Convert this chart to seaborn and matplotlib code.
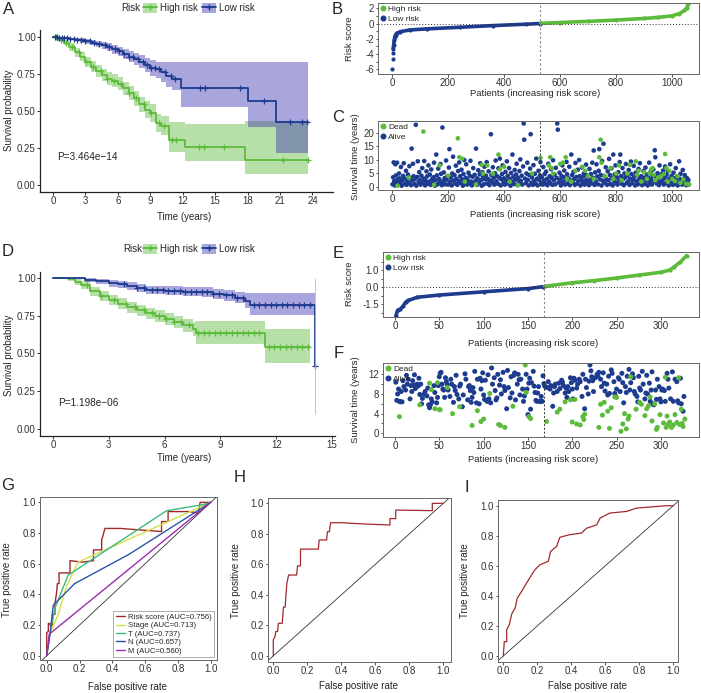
import numpy as np
import pandas as pd
import matplotlib.pyplot as plt
import seaborn as sns
from matplotlib.lines import Line2D
from matplotlib.patches import Patch
from matplotlib.ticker import FormatStrFormatter

sns.set_style("ticks")
plt.rcParams['font.family'] = ['Liberation Sans', 'DejaVu Sans']
plt.rcParams['font.size'] = 7
plt.rcParams['axes.unicode_minus'] = False

GREEN = "#5dbb3c"
BLUE = "#1d3b8f"
BLUE_FILL = "#4238b4"

# ---- Kaplan-Meier, training cohort (A) ----
a_low_t = [0, 0.5, 1.0, 1.5, 2.0, 2.5, 3.0, 3.5, 4.0, 4.5, 5.0, 5.5, 6.0, 6.5, 7.0, 7.5, 8.0, 8.5, 9.0, 9.5,
           10.0, 10.5, 11.0, 11.8, 18.0, 20.6, 23.6]
a_low_s = [1.0, 0.997, 0.993, 0.99, 0.985, 0.98, 0.975, 0.965, 0.955, 0.945, 0.935, 0.92, 0.905, 0.89, 0.87,
           0.855, 0.835, 0.815, 0.795, 0.785, 0.765, 0.74, 0.715, 0.658, 0.567, 0.424, 0.424]
a_low_up = [1.0, 1.0, 1.0, 0.999, 0.997, 0.994, 0.99, 0.982, 0.975, 0.967, 0.96, 0.948, 0.935, 0.924, 0.908,
            0.895, 0.878, 0.862, 0.845, 0.835, 0.834, 0.834, 0.834, 0.834, 0.834, 0.834, 0.834]
a_low_lo = [1.0, 0.993, 0.986, 0.98, 0.972, 0.965, 0.958, 0.945, 0.932, 0.92, 0.905, 0.888, 0.872, 0.852, 0.83,
            0.812, 0.79, 0.765, 0.74, 0.725, 0.695, 0.665, 0.64, 0.528, 0.39, 0.215, 0.215]
a_low_cens = [0.2, 0.4, 0.6, 0.8, 1.0, 1.3, 1.6, 1.9, 2.2, 2.6, 3.0, 3.4, 3.8, 4.3, 4.8, 5.2, 5.7, 6.1, 6.6, 7.0,
              7.4, 7.9, 8.3, 8.7, 9.1, 9.4, 9.8, 10.4, 10.9, 11.3, 13.6, 14.1, 17.3, 19.5, 21.9, 23.0, 23.5]

a_high_t = [0, 0.5, 1.0, 1.5, 2.0, 2.5, 3.0, 3.5, 4.0, 4.5, 5.0, 5.5, 6.0, 6.5, 7.0, 7.5, 8.0, 8.5, 9.0, 9.5,
            10.0, 10.7, 12.2, 17.8, 23.6]
a_high_s = [1.0, 0.985, 0.965, 0.935, 0.9, 0.87, 0.835, 0.8, 0.77, 0.745, 0.72, 0.705, 0.685, 0.655, 0.62,
            0.585, 0.545, 0.51, 0.485, 0.42, 0.40, 0.30, 0.256, 0.17, 0.17]
a_high_up = [1.0, 0.995, 0.985, 0.96, 0.93, 0.9, 0.87, 0.838, 0.81, 0.785, 0.762, 0.748, 0.728, 0.7, 0.668,
             0.635, 0.598, 0.565, 0.545, 0.48, 0.465, 0.426, 0.415, 0.433, 0.433]
a_high_lo = [1.0, 0.975, 0.945, 0.91, 0.87, 0.84, 0.8, 0.762, 0.73, 0.705, 0.678, 0.662, 0.64, 0.61, 0.572,
             0.535, 0.492, 0.455, 0.425, 0.36, 0.34, 0.22, 0.16, 0.075, 0.075]
a_high_cens = [0.3, 0.7, 1.2, 1.8, 2.4, 3.1, 3.7, 4.4, 5.0, 5.6, 6.3, 7.0, 7.7, 8.4, 9.1, 9.8, 10.3, 11.0, 11.4,
               13.5, 14.0, 15.8, 21.3, 23.6]

# ---- Kaplan-Meier, validation cohort (D) ----
d_low_t = [0, 1.0, 1.7, 2.3, 3.0, 3.5, 4.0, 4.5, 5.0, 6.0, 7.0, 8.0, 8.6, 9.2, 9.8, 10.3, 10.6, 14.1]
d_low_s = [1.0, 0.997, 0.985, 0.975, 0.963, 0.955, 0.942, 0.93, 0.918, 0.912, 0.907, 0.903, 0.893, 0.882,
           0.868, 0.845, 0.818, 0.42]
d_low_up = [1.0, 1.0, 0.997, 0.992, 0.985, 0.979, 0.968, 0.958, 0.947, 0.942, 0.938, 0.935, 0.928, 0.918,
            0.906, 0.9, 0.9, 1.0]
d_low_lo = [1.0, 0.99, 0.973, 0.958, 0.941, 0.931, 0.916, 0.902, 0.889, 0.882, 0.876, 0.871, 0.858, 0.846,
            0.83, 0.8, 0.753, 0.10]
d_low_cens = [3.8, 4.5, 4.9, 5.3, 5.6, 5.9, 6.2, 6.5, 6.8, 7.1, 7.4, 7.7, 8.0, 8.3, 8.6, 8.9, 9.3, 9.6, 9.9,
              10.2, 10.8, 11.1, 11.4, 11.7, 12.0, 12.3, 12.6, 12.9, 13.2, 13.5, 13.8, 14.1]

d_high_t = [0, 0.8, 1.2, 1.5, 2.0, 2.5, 3.0, 3.5, 4.0, 4.5, 5.0, 5.5, 6.0, 6.5, 7.0, 7.5, 7.7, 11.4, 13.8]
d_high_s = [1.0, 0.99, 0.97, 0.951, 0.91, 0.88, 0.852, 0.828, 0.804, 0.784, 0.764, 0.745, 0.725, 0.706,
            0.687, 0.659, 0.636, 0.544, 0.544]
d_high_up = [1.0, 1.0, 0.99, 0.975, 0.94, 0.912, 0.886, 0.863, 0.84, 0.821, 0.802, 0.784, 0.765, 0.747,
             0.73, 0.705, 0.716, 0.66, 0.66]
d_high_lo = [1.0, 0.98, 0.95, 0.927, 0.88, 0.848, 0.818, 0.793, 0.768, 0.747, 0.726, 0.706, 0.685, 0.665,
             0.644, 0.613, 0.562, 0.434, 0.434]
d_high_cens = [1.8, 2.6, 3.3, 3.9, 4.4, 4.9, 5.3, 5.7, 6.1, 6.5, 6.9, 7.3, 7.8, 8.1, 8.4, 8.7, 9.0, 9.3, 9.6,
               9.9, 10.2, 10.5, 10.8, 11.1, 11.6, 11.9, 12.2, 12.5, 12.8, 13.1, 13.4, 13.7]

# ---- risk score curves (B, E) ----
b_low_idx = [1, 2, 3, 4, 6, 8, 10, 13, 18, 30, 65, 125, 243, 362, 480, 528]
b_low_score = [-5.9, -4.6, -3.9, -3.3, -2.8, -2.2, -1.7, -1.45, -1.25, -1.06, -0.84, -0.7, -0.49, -0.27,
               -0.09, 0.0]
b_high_idx = [531, 600, 700, 800, 900, 950, 1000, 1026, 1044, 1052, 1056]
b_high_score = [0.02, 0.13, 0.28, 0.45, 0.66, 0.8, 1.0, 1.3, 1.7, 2.0, 2.5]
b_cutoff = 530

e_low_idx = [1, 3, 6, 9, 12, 15, 25, 50, 100, 150, 167]
e_low_score = [-1.7, -1.36, -1.3, -1.13, -0.89, -0.79, -0.6, -0.47, -0.28, -0.09, 0.02]
e_high_idx = [169, 200, 225, 250, 275, 300, 310, 315, 322, 329]
e_high_score = [0.04, 0.25, 0.38, 0.53, 0.7, 0.87, 1.0, 1.19, 1.47, 1.85]
e_cutoff = 168

# ---- survival status scatter (C, F): (patient, years) ----
c_alive = [(2, 1.0), (4, 3.6), (6, 9.1), (8, 2.2), (10, 0.6), (12, 8.4), (14, 4.3), (16, 1.5), (18, 9.0),
           (20, 2.8), (23, 0.9), (25, 5.0), (27, 3.2), (30, 1.8), (32, 7.4), (35, 0.5), (37, 2.6), (40, 4.1),
           (42, 8.8), (45, 1.2), (47, 3.0), (50, 6.0), (52, 0.8), (55, 2.0), (57, 4.6), (60, 1.5), (62, 7.7),
           (65, 3.4), (68, 0.7), (70, 14.2), (72, 2.4), (75, 8.6), (77, 4.0), (80, 1.1), (82, 2.9), (85, 23.0),
           (87, 0.5), (90, 3.7), (92, 9.5), (95, 1.8), (97, 5.5), (100, 2.5),
           (102, 0.9), (105, 4.2), (108, 7.0), (110, 1.6), (113, 3.1), (115, 9.6), (118, 0.6), (120, 2.3),
           (123, 5.8), (125, 3.9), (128, 1.2), (130, 8.0), (133, 2.0), (135, 4.6), (138, 0.8), (140, 6.5),
           (143, 2.9), (145, 1.4), (148, 3.6), (150, 9.0), (153, 0.5), (155, 2.5), (158, 12.0), (160, 4.3),
           (163, 1.0), (165, 6.8), (168, 3.0), (170, 1.7), (173, 8.5), (175, 4.9), (178, 0.7), (180, 22.0),
           (182, 2.2), (185, 5.4), (188, 3.3), (190, 1.0), (193, 9.8), (195, 2.7), (198, 4.0), (200, 0.9),
           (203, 7.2), (205, 14.0), (208, 1.9), (210, 3.5), (213, 0.6), (215, 5.0), (218, 11.2), (220, 2.4),
           (223, 4.4), (225, 1.3), (228, 7.9), (230, 3.0), (233, 0.8), (236, 5.9), (238, 2.1), (240, 9.1),
           (243, 4.0), (245, 1.5), (248, 6.4), (250, 2.8), (253, 0.5), (255, 4.8), (258, 10.0), (260, 1.7),
           (263, 3.4), (265, 8.4), (268, 0.9), (270, 2.6), (273, 5.3), (275, 1.2), (278, 4.1), (280, 9.7),
           (283, 2.0), (285, 0.6), (288, 3.8), (290, 7.0), (293, 1.4), (295, 4.5), (298, 2.3), (300, 14.2),
           (303, 0.8), (305, 3.2), (308, 6.2), (310, 1.6), (313, 4.7), (315, 8.8), (318, 2.5), (320, 0.5),
           (323, 5.5), (325, 3.6), (328, 1.0), (330, 7.5), (333, 2.8), (335, 4.2), (338, 9.2), (340, 1.3),
           (343, 3.0), (345, 5.8), (348, 0.7), (350, 2.4), (353, 19.5), (355, 4.4), (358, 1.9), (360, 7.3),
           (363, 3.3), (365, 0.9), (368, 5.1), (370, 9.8), (373, 2.1), (375, 4.0), (378, 1.2), (380, 6.9),
           (383, 3.5), (385, 10.5), (388, 0.6), (390, 2.9), (393, 4.8), (395, 8.0), (398, 1.7), (400, 3.2),
           (403, 0.9), (405, 5.6), (408, 2.4), (410, 9.5), (413, 4.1), (415, 1.3), (418, 7.0), (420, 3.0),
           (423, 0.5), (425, 5.2), (428, 2.0), (430, 12.0), (433, 3.8), (435, 1.1), (438, 6.3), (440, 2.7),
           (443, 4.6), (445, 8.6), (448, 0.7), (450, 3.4), (453, 1.8), (455, 5.9), (458, 10.2), (460, 2.3),
           (463, 4.2), (465, 0.9), (468, 7.6), (470, 23.5), (472, 17.5), (475, 3.1), (478, 1.4), (480, 5.0),
           (483, 9.0), (485, 2.6), (488, 0.6), (490, 4.4), (493, 6.8), (495, 19.5), (498, 1.6), (500, 3.5),
           (503, 0.8), (505, 8.1), (508, 2.2), (510, 4.9), (513, 1.2), (515, 10.5), (518, 3.1), (520, 0.6),
           (523, 6.0), (525, 2.6), (528, 4.3), (530, 9.2), (533, 1.5), (535, 3.6), (538, 0.9), (540, 7.4),
           (543, 2.4), (545, 4.8), (548, 1.1), (550, 5.7), (553, 3.0), (555, 0.7), (558, 8.6), (560, 2.0),
           (563, 4.0), (565, 1.4), (568, 6.6), (570, 3.3), (573, 0.8), (575, 9.9), (578, 2.5), (580, 4.6),
           (583, 1.0), (585, 7.1), (588, 3.4), (590, 23.5), (592, 21.2), (595, 1.7), (598, 5.3), (600, 2.7),
           (603, 0.6), (605, 4.1), (608, 8.0), (610, 1.9), (613, 3.6), (615, 6.1), (618, 0.9), (620, 2.8),
           (623, 9.3), (625, 4.7), (628, 1.3), (630, 3.2), (633, 7.5), (635, 0.7), (638, 2.4), (640, 12.0),
           (643, 4.4), (645, 1.6), (648, 5.6), (650, 2.9), (653, 0.8), (655, 8.9), (658, 3.7), (660, 1.2),
           (663, 6.4), (665, 2.2), (668, 10.0), (670, 4.0), (673, 0.6), (675, 2.7), (678, 7.2), (680, 1.5),
           (683, 3.9), (685, 5.0), (688, 0.9), (690, 2.4), (693, 8.3), (695, 4.3), (698, 1.8), (700, 3.1),
           (703, 0.7), (705, 6.7), (708, 2.6), (710, 4.8), (713, 1.3), (715, 9.0), (718, 3.4), (720, 13.5),
           (723, 0.8), (725, 5.4), (728, 2.1), (730, 8.4), (733, 3.9), (735, 1.0), (738, 6.0), (740, 14.0),
           (743, 2.8), (745, 4.5), (748, 0.6), (750, 9.6), (753, 2.3), (755, 16.0), (758, 4.1), (760, 1.5),
           (763, 7.3), (765, 3.0), (768, 0.8), (770, 5.8), (773, 2.5), (775, 10.4), (778, 4.4), (780, 1.1),
           (783, 6.9), (785, 3.3), (788, 0.6), (790, 12.0), (793, 2.2), (795, 4.7), (798, 8.0), (800, 1.6),
           (803, 3.6), (805, 0.9), (808, 5.5), (810, 2.4), (813, 9.2), (815, 12.0), (818, 4.0), (820, 1.2),
           (823, 7.0), (825, 2.9), (828, 0.7), (830, 5.0), (833, 3.5), (835, 8.5), (838, 1.5), (840, 4.3),
           (843, 2.0), (845, 6.3), (848, 0.8), (850, 3.1), (853, 9.4), (855, 4.8), (858, 1.4), (860, 2.6),
           (863, 7.8), (865, 3.8), (868, 0.6), (870, 5.3), (873, 2.2), (875, 4.4), (878, 1.0), (880, 6.7),
           (883, 3.0), (885, 8.8), (888, 1.7), (890, 4.0), (893, 0.7), (895, 2.8), (898, 5.9), (900, 3.4),
           (903, 1.2), (905, 7.2), (908, 2.4), (910, 4.6), (913, 0.6), (915, 3.3), (918, 9.0), (920, 1.8),
           (923, 5.6), (925, 2.9), (928, 0.9), (930, 4.2), (933, 6.5), (935, 2.1), (938, 13.6), (940, 11.0),
           (943, 3.7), (945, 1.3), (948, 5.1), (950, 2.6), (953, 0.7), (955, 8.0), (958, 3.9), (960, 1.6),
           (963, 4.8), (965, 2.3), (968, 6.1), (970, 0.9), (973, 3.4), (975, 7.6), (978, 1.4), (980, 4.4),
           (983, 2.0), (985, 5.7), (988, 0.6), (990, 3.0), (993, 8.4), (995, 1.9), (998, 4.1), (1000, 2.5),
           (1003, 0.8), (1005, 5.3), (1008, 3.2), (1010, 1.2), (1013, 7.0), (1015, 2.4), (1018, 4.0),
           (1020, 0.6), (1023, 3.5), (1025, 9.5), (1028, 1.7), (1030, 4.9), (1033, 2.6), (1035, 0.9),
           (1038, 6.3), (1040, 3.0), (1043, 1.4), (1045, 4.4), (1048, 2.1), (1050, 0.7), (1053, 3.3),
           (1055, 1.5), (1058, 2.6), (1060, 0.9)]
c_dead = [(20, 0.5), (60, 3.5), (112, 20.5), (150, 0.8), (170, 8.0), (200, 4.2), (235, 18.0), (240, 11.0),
          (250, 10.5), (260, 2.0), (300, 1.0), (320, 8.2), (325, 5.0), (340, 8.0), (360, 5.0), (380, 12.0),
          (385, 6.5), (400, 7.5), (420, 2.0), (450, 0.7), (500, 5.0), (530, 10.8), (560, 8.0), (565, 11.0),
          (570, 7.0), (575, 5.0), (600, 8.5), (610, 9.0), (620, 11.0), (625, 3.0), (640, 2.0), (655, 6.0),
          (680, 7.5), (690, 6.0), (700, 4.0), (720, 3.0), (740, 11.0), (745, 17.5), (748, 9.0), (760, 4.0),
          (780, 7.0), (790, 3.0), (800, 5.0), (810, 8.0), (820, 2.5), (840, 5.0), (850, 8.2), (870, 9.5),
          (875, 4.5), (880, 6.0), (890, 2.0), (900, 5.5), (910, 3.0), (920, 5.0), (925, 6.5), (930, 7.0),
          (935, 4.5), (940, 2.5), (950, 3.5), (960, 4.0), (970, 4.8), (975, 12.2), (980, 7.0), (985, 2.0),
          (990, 6.0), (1000, 3.0), (1010, 2.2), (1020, 4.0), (1030, 1.5), (1040, 2.8), (1050, 1.2),
          (1060, 1.0)]

f_alive = [(1, 10.4), (2, 6.7), (3, 8.0), (4, 9.0), (5, 6.5), (6, 6.4), (7, 8.5), (8, 6.4), (9, 10.7),
           (10, 9.5), (12, 8.8), (13, 11.8), (14, 10.0), (15, 11.0), (17, 7.0), (18, 9.7), (19, 8.5),
           (20, 10.7), (21, 9.8), (22, 11.9), (23, 9.1), (25, 10.0), (26, 9.6), (27, 11.2), (28, 7.9),
           (29, 10.0), (30, 6.0), (31, 7.1), (33, 8.0), (34, 8.5), (36, 7.6), (37, 9.2), (38, 5.8), (39, 5.2),
           (40, 5.8), (41, 7.0), (42, 6.4), (44, 9.7), (45, 8.3), (47, 6.2), (48, 7.3), (49, 9.7), (50, 11.5),
           (51, 12.2), (52, 12.4), (53, 10.0), (54, 9.0), (55, 8.8), (56, 7.3), (57, 11.3), (58, 10.5),
           (59, 9.9), (60, 8.8), (62, 7.5), (63, 11.0), (64, 10.0), (66, 6.3), (67, 9.5), (68, 8.7),
           (69, 11.8), (70, 7.9), (72, 7.0), (73, 9.6), (74, 10.0), (76, 5.4), (77, 7.8), (79, 12.1),
           (80, 11.0), (82, 6.8), (83, 9.5), (84, 9.7), (85, 8.7), (86, 6.3), (87, 7.3), (88, 9.3), (89, 8.3),
           (90, 12.6), (92, 6.2), (93, 11.0), (95, 6.0), (96, 11.2), (97, 9.0), (98, 10.7), (99, 12.3),
           (100, 7.8), (101, 6.9), (102, 10.8), (104, 6.5), (105, 11.9), (106, 7.0), (108, 6.2), (109, 13.3),
           (110, 10.0), (112, 11.3), (113, 8.7), (114, 6.8), (115, 7.2), (116, 12.0), (118, 9.8), (119, 10.9),
           (120, 8.0), (122, 12.4), (123, 9.5), (124, 8.7), (126, 5.0), (127, 12.8), (128, 9.3), (130, 7.2),
           (131, 11.5), (132, 8.2), (134, 11.8), (135, 12.3), (136, 6.8), (138, 10.0), (139, 12.0),
           (140, 10.9), (141, 7.8), (142, 11.0), (144, 9.0), (145, 6.5), (146, 7.6), (148, 12.0), (149, 9.0),
           (150, 3.8), (151, 10.2), (152, 11.2), (153, 4.9), (154, 10.3), (156, 12.6), (157, 9.6), (158, 8.3),
           (159, 6.7), (160, 6.5), (161, 8.2), (162, 9.5), (163, 6.5), (164, 6.5), (165, 7.5), (166, 6.5),
           (167, 11.7), (168, 10.1), (169, 9.6), (170, 9.4), (172, 9.3), (173, 10.5), (175, 9.0), (176, 9.7),
           (178, 5.5), (179, 8.2), (180, 9.5), (181, 10.0), (183, 8.5), (185, 10.2), (186, 9.1), (188, 10.8),
           (189, 10.4), (190, 9.7), (192, 8.2), (193, 9.2), (194, 7.3), (195, 9.5), (196, 8.5), (198, 11.3),
           (199, 10.3), (200, 9.0), (201, 7.0), (202, 11.2), (203, 10.8), (205, 9.2), (206, 10.0),
           (208, 11.0), (209, 10.5), (211, 7.5), (212, 12.0), (214, 5.0), (215, 11.0), (216, 9.3), (218, 8.0),
           (219, 10.6), (220, 13.9), (221, 12.7), (222, 11.5), (223, 10.7), (224, 8.5), (226, 11.3),
           (228, 12.0), (229, 11.6), (230, 12.4), (232, 11.0), (233, 9.5), (235, 12.3), (236, 10.2),
           (237, 8.6), (239, 10.0), (240, 7.8), (241, 11.6), (242, 8.1), (244, 12.9), (245, 12.2), (247, 10.5),
           (248, 8.1), (249, 7.5), (250, 9.0), (252, 11.3), (253, 11.0), (254, 8.5), (256, 12.2), (257, 10.3),
           (258, 6.2), (260, 9.5), (261, 8.3), (262, 11.6), (264, 13.0), (265, 8.8), (266, 10.3), (268, 12.1),
           (269, 11.3), (270, 8.5), (271, 8.0), (273, 7.5), (274, 6.4), (275, 11.6), (276, 9.2), (277, 8.8),
           (279, 12.6), (280, 10.0), (282, 7.0), (283, 8.2), (284, 11.8), (285, 8.0), (287, 10.2), (288, 6.5),
           (289, 8.8), (290, 12.5), (291, 6.0), (292, 5.8), (294, 8.8), (295, 6.9), (296, 11.0), (298, 9.5),
           (299, 7.0), (300, 6.4), (301, 8.8), (302, 9.0), (304, 8.7), (305, 6.5), (307, 12.2), (308, 11.0),
           (309, 9.2), (311, 7.0), (313, 12.5), (314, 6.5), (316, 11.0), (318, 10.5), (319, 6.6), (320, 6.2),
           (322, 11.2), (323, 6.0), (325, 4.5), (326, 7.5)]
f_dead = [(5, 3.4), (28, 5.8), (39, 10.2), (41, 8.9), (45, 5.0), (48, 10.3), (50, 4.8), (51, 4.8), (59, 9.3),
          (65, 4.0), (73, 5.4), (87, 1.6), (93, 4.6), (97, 2.4), (100, 2.9), (107, 8.1), (117, 1.8), (119, 1.6),
          (124, 1.2), (133, 5.5), (147, 13.9), (148, 8.3), (151, 3.4), (153, 3.0), (171, 2.4), (183, 4.3),
          (186, 4.9), (192, 6.4), (198, 6.8), (200, 2.3), (203, 6.9), (205, 1.9), (209, 1.7), (212, 3.4),
          (213, 2.8), (214, 3.9), (230, 1.2), (232, 5.9), (234, 3.7), (236, 6.3), (240, 4.5), (242, 1.0),
          (244, 5.2), (248, 7.4), (250, 7.3), (255, 0.4), (257, 1.9), (259, 4.0), (261, 0.9), (263, 2.9),
          (264, 3.5), (266, 11.5), (272, 4.9), (276, 6.3), (278, 5.9), (282, 3.6), (284, 5.0), (286, 5.6),
          (288, 7.4), (290, 2.5), (293, 6.0), (295, 0.8), (296, 1.2), (299, 3.8), (303, 2.1), (305, 11.4),
          (306, 1.2), (307, 3.5), (308, 1.8), (310, 2.3), (312, 1.2), (314, 1.7), (316, 3.8), (318, 2.2),
          (320, 11.3), (321, 1.8), (323, 4.9), (324, 2.0), (325, 1.4), (327, 2.9)]

# ---- ROC curves (G, H, I) ----
g_names = ['Risk score (AUC=0.756)', 'Stage (AUC=0.713)', 'T (AUC=0.737)', 'N (AUC=0.657)', 'M (AUC=0.560)']
g_colors = ['#a3282c', '#d3e04a', '#3dba7c', '#2a55a4', '#9a2eae']
g_risk_fpr = [0, 0.0, 0.01, 0.01, 0.02, 0.02, 0.035, 0.035, 0.05, 0.05, 0.06, 0.065, 0.075, 0.075, 0.142,
              0.142, 0.22, 0.285, 0.285, 0.335, 0.335, 0.355, 0.45, 0.57, 0.70, 0.70, 0.74, 0.74, 0.87, 0.925,
              0.935, 1.0]
g_risk_tpr = [0, 0.15, 0.16, 0.21, 0.21, 0.20, 0.20, 0.27, 0.27, 0.34, 0.41, 0.47, 0.47, 0.54, 0.54, 0.62,
              0.61, 0.62, 0.69, 0.69, 0.755, 0.83, 0.83, 0.82, 0.81, 0.875, 0.875, 0.94, 0.94, 0.93, 1.0, 1.0]
g_stage_fpr = [0, 0.02, 0.07, 0.12, 0.19, 1.0]
g_stage_tpr = [0, 0.14, 0.27, 0.45, 0.61, 1.0]
g_t_fpr = [0, 0.02, 0.05, 0.13, 0.73, 0.95, 1.0]
g_t_tpr = [0, 0.15, 0.31, 0.525, 0.945, 0.985, 1.0]
g_n_fpr = [0, 0.02, 0.04, 0.17, 0.5, 1.0]
g_n_tpr = [0, 0.14, 0.33, 0.47, 0.66, 1.0]
g_m_fpr = [0, 0.015, 1.0]
g_m_tpr = [0, 0.14, 1.0]

h_fpr = [0, 0, 0.005, 0.01, 0.015, 0.025, 0.03, 0.053, 0.06, 0.07, 0.075, 0.08, 0.09, 0.137, 0.143, 0.16,
         0.16, 0.265, 0.27, 0.314, 0.318, 0.33, 0.337, 0.40, 0.53, 0.686, 0.686, 0.72, 0.72, 0.935, 0.935, 1.0]
h_tpr = [0, 0.105, 0.115, 0.127, 0.16, 0.16, 0.214, 0.214, 0.32, 0.32, 0.41, 0.476, 0.53, 0.53, 0.59, 0.59,
         0.70, 0.70, 0.76, 0.76, 0.814, 0.814, 0.873, 0.873, 0.865, 0.858, 0.90, 0.90, 0.956, 0.952, 1.0, 1.0]
i_fpr = [0, 0.006, 0.02, 0.02, 0.035, 0.05, 0.07, 0.082, 0.108, 0.137, 0.167, 0.186, 0.216, 0.265, 0.278,
         0.314, 0.333, 0.39, 0.46, 0.49, 0.55, 0.57, 0.627, 0.725, 0.784, 0.882, 0.96, 1.0]
i_tpr = [0, 0.095, 0.095, 0.173, 0.207, 0.28, 0.32, 0.385, 0.43, 0.485, 0.54, 0.573, 0.607, 0.63, 0.695, 0.73,
         0.79, 0.807, 0.818, 0.85, 0.873, 0.918, 0.951, 0.962, 0.984, 0.993, 1.0, 1.0]

W, H = 701, 693
fig = plt.figure(figsize=(W / 100, H / 100), dpi=100)


def add_box(l, t, r, b):
    # axes from pixel box (left, top, right, bottom)
    return fig.add_axes([l / W, 1 - b / H, (r - l) / W, (b - t) / H])


def ftext(x, y, s, **kw):
    kw.setdefault('ha', 'center')
    kw.setdefault('va', 'center')
    fig.text(x / W, 1 - y / H, s, **kw)


def style_box(ax):
    for sp in ax.spines.values():
        sp.set_color('#666666')
        sp.set_linewidth(0.7)
    ax.tick_params(labelsize=7, length=1.8, width=0.6, pad=1.0, colors='#333333', which='both')
    ax.set_xlabel('')
    ax.set_ylabel('')


def surv_at(t, s, times):
    idx = np.searchsorted(t, times, side='right') - 1
    return np.asarray(s)[idx]


def draw_km(ax, groups):
    for t, s, lo, up, cens, col, fill, alpha in groups:
        ax.fill_between(t, lo, up, step='post', color=fill, alpha=alpha, lw=0)
    for t, s, lo, up, cens, col, fill, alpha in groups:
        sns.lineplot(x=t, y=s, ax=ax, color=col, lw=1.3, drawstyle='steps-post', estimator=None, sort=False)
        ax.plot(cens, surv_at(t, s, cens), ls='none', marker='+', ms=4.5, mew=0.9, color=col)
    sns.despine(ax=ax)
    for sp in ['left', 'bottom']:
        ax.spines[sp].set_color('#222222')
        ax.spines[sp].set_linewidth(0.9)
    ax.tick_params(labelsize=7, length=2.0, width=0.7, pad=1.0, colors='#333333')
    ax.yaxis.set_major_formatter(FormatStrFormatter('%.2f'))
    ax.set_xlabel('')
    ax.set_ylabel('')


def km_legend(ax, y_px, x_px):
    hh = [(Patch(color=GREEN, alpha=0.45, lw=0), Line2D([], [], color=GREEN, lw=1.3, marker='+', ms=4.5)),
          (Patch(color=BLUE_FILL, alpha=0.45, lw=0), Line2D([], [], color=BLUE, lw=1.3, marker='+', ms=4.5))]
    ax.legend(hh, ['High risk', 'Low risk'], loc='center left', bbox_to_anchor=(x_px / W, 1 - y_px / H),
              bbox_transform=fig.transFigure, ncol=2, frameon=False, fontsize=7, handlelength=1.45,
              handleheight=1.2, handletextpad=0.25, columnspacing=0.5, borderpad=0, borderaxespad=0)


def draw_risk(ax, low_i, low_s, high_i, high_s, cutoff, gap):
    sns.lineplot(x=low_i[gap:], y=low_s[gap:], ax=ax, color=BLUE, lw=2.6)
    sns.lineplot(x=high_i, y=high_s, ax=ax, color=GREEN, lw=2.6)
    sns.scatterplot(x=low_i, y=low_s, ax=ax, color=BLUE, s=9, linewidth=0)
    sns.scatterplot(x=high_i, y=high_s, ax=ax, color=GREEN, s=9, linewidth=0)
    ax.axvline(cutoff, color='#888888', lw=0.8, ls=(0, (2, 2)))
    ax.axhline(0, color='#333333', lw=0.7, ls=(0, (1, 2)))
    style_box(ax)


def small_legend(ax, labels):
    hh = [Line2D([], [], ls='none', marker='o', ms=3.3, color=GREEN),
          Line2D([], [], ls='none', marker='o', ms=3.3, color=BLUE)]
    ax.legend(hh, labels, loc='upper left', frameon=False, fontsize=6, handlelength=0.6, handletextpad=0.3,
              labelspacing=0.2, borderpad=0.2, borderaxespad=0.1)


def draw_status(ax, alive, dead, cutoff, size):
    df = pd.concat([pd.DataFrame(alive, columns=['patient', 'years']).assign(status='Alive'),
                    pd.DataFrame(dead, columns=['patient', 'years']).assign(status='Dead')])
    sns.scatterplot(data=df, x='patient', y='years', hue='status', palette={'Alive': BLUE, 'Dead': GREEN},
                    s=size, linewidth=0, ax=ax, legend=False)
    ax.axvline(cutoff, color='#333333', lw=0.7, ls=(0, (2, 2)))
    style_box(ax)


# A
ax = add_box(40, 30, 333, 192)
draw_km(ax, [(a_high_t, a_high_s, a_high_lo, a_high_up, a_high_cens, GREEN, GREEN, 0.45),
             (a_low_t, a_low_s, a_low_lo, a_low_up, a_low_cens, BLUE, BLUE_FILL, 0.45)])
ax.set_xlim(-1.2, 25.9)
ax.set_ylim(-0.05, 1.05)
ax.set_xticks(range(0, 25, 3))
ax.set_yticks([0, 0.25, 0.5, 0.75, 1.0])
ax.text(0.4, 0.19, 'P=3.464e\u221214', fontsize=7.2, va='center')
km_legend(ax, 8, 143)
ftext(121, 8, 'Risk', ha='left', fontsize=7)
ftext(9, 110, 'Survival probability', rotation=90)
ftext(184, 217, 'Time (years)')

# B
ax = add_box(378, 3, 699, 74)
draw_risk(ax, b_low_idx, b_low_score, b_high_idx, b_high_score, b_cutoff, 3)
ax.set_xlim(-50, 1096)
ax.set_ylim(-6.6, 2.68)
ax.set_xticks(range(0, 1001, 200))
ax.set_yticks([2, 0, -2, -4, -6])
ax.set_yticks([1, -1, -3, -5], minor=True)
small_legend(ax, ['High risk', 'Low risk'])
ftext(350, 39, 'Risk score', rotation=90, fontsize=6.8)
ftext(535, 94, 'Patients (increasing risk score)', fontsize=6.8)

# C
ax = add_box(378, 121, 699, 190)
draw_status(ax, c_alive, c_dead, b_cutoff, 11)
ax.set_xlim(-50, 1096)
ax.set_ylim(-1.1, 24.4)
ax.set_xticks(range(0, 1001, 200))
ax.set_yticks([0, 5, 10, 15, 20])
small_legend(ax, ['Dead', 'Alive'])
ftext(356, 157, 'Survival time (years)', rotation=90, fontsize=6.8)
ftext(535, 214, 'Patients (increasing risk score)', fontsize=6.8)

# D
ax = add_box(40, 272, 335, 436)
draw_km(ax, [(d_high_t, d_high_s, d_high_lo, d_high_up, d_high_cens, GREEN, GREEN, 0.45),
             (d_low_t, d_low_s, d_low_lo, d_low_up, d_low_cens, BLUE, BLUE_FILL, 0.45)])
ax.vlines(d_low_t[-1], d_low_lo[-1], d_low_up[-1], color='#b8b6dc', lw=0.6)
ax.set_xlim(-0.7, 15.16)
ax.set_ylim(-0.045, 1.037)
ax.set_xticks(range(0, 16, 3))
ax.set_yticks([0, 0.25, 0.5, 0.75, 1.0])
ax.text(0.27, 0.175, 'P=1.198e\u221206', fontsize=7.2, va='center')
km_legend(ax, 249, 143)
ftext(123, 249, 'Risk', ha='left', fontsize=7)
ftext(9, 355, 'Survival probability', rotation=90)
ftext(184, 458, 'Time (years)')

# E
ax = add_box(383, 252, 699, 317)
draw_risk(ax, e_low_idx, e_low_score, e_high_idx, e_high_score, e_cutoff, 0)
ax.set_xlim(-13.5, 343)
ax.set_ylim(-1.76, 2.06)
ax.set_xticks(range(0, 301, 50))
ax.set_yticks([1.0, 0.0, -1.0])
ax.set_yticklabels(['1.0', '0.0', '-1.5'])
ax.set_yticks([1.5, 0.5, -0.5, -1.5], minor=True)
small_legend(ax, ['High risk', 'Low risk'])
ftext(350, 284, 'Risk score', rotation=90, fontsize=6.8)
ftext(533, 344, 'Patients (increasing risk score)', fontsize=6.8)

# F
ax = add_box(383, 363, 699, 437)
draw_status(ax, f_alive, f_dead, e_cutoff, 13)
ax.set_xlim(-13.5, 343)
ax.set_ylim(-0.75, 14.3)
ax.set_xticks(range(0, 301, 50))
ax.set_yticks([0, 4, 8, 12])
ax.set_yticks([2, 6, 10], minor=True)
small_legend(ax, ['Dead', 'Alive'])
ftext(356, 400, 'Survival time (years)', rotation=90, fontsize=6.8)
ftext(533, 459, 'Patients (increasing risk score)', fontsize=6.8)

# G
ax = add_box(40, 497, 217, 660)
ax.axline((0, 0), (1, 1), color='#333333', lw=0.6)
g_curves = [(g_risk_fpr, g_risk_tpr), (g_stage_fpr, g_stage_tpr), (g_t_fpr, g_t_tpr),
            (g_n_fpr, g_n_tpr), (g_m_fpr, g_m_tpr)]
for (fx, fy), name, col in zip(g_curves, g_names, g_colors):
    sns.lineplot(x=fx, y=fy, ax=ax, color=col, lw=1.0, label=name, estimator=None, sort=False)
ax.set_xlim(-0.041, 1.038)
ax.set_ylim(-0.028, 1.035)
ax.set_xticks(np.arange(0, 1.01, 0.2))
ax.set_yticks(np.arange(0, 1.01, 0.2))
style_box(ax)
leg = ax.legend(loc='lower right', fontsize=5.6, frameon=True, fancybox=False, edgecolor='#888888',
                handlelength=1.1, handletextpad=0.4, labelspacing=0.12, borderpad=0.35, borderaxespad=0.35)
leg.get_frame().set_linewidth(0.6)
ftext(7, 580, 'True positive rate', rotation=90)
ftext(128, 687, 'False positive rate')

# H
ax = add_box(268, 498, 451, 662)
ax.axline((0, 0), (1, 1), color='#333333', lw=0.6)
sns.lineplot(x=h_fpr, y=h_tpr, ax=ax, color='#a3282c', lw=0.9, estimator=None, sort=False)
ax.set_xlim(-0.031, 1.045)
ax.set_ylim(-0.04, 1.035)
ax.set_xticks(np.arange(0, 1.01, 0.2))
ax.set_yticks(np.arange(0, 1.01, 0.2))
style_box(ax)
ftext(236, 581, 'True positive rate', rotation=90)
ftext(358, 686, 'False positive rate')

# I
ax = add_box(498, 500, 678, 662)
ax.axline((0, 0), (1, 1), color='#333333', lw=0.6)
sns.lineplot(x=i_fpr, y=i_tpr, ax=ax, color='#a3282c', lw=0.9, estimator=None, sort=False)
ax.set_xlim(-0.031, 1.028)
ax.set_ylim(-0.04, 1.038)
ax.set_xticks(np.arange(0, 1.01, 0.2))
ax.set_yticks(np.arange(0, 1.01, 0.2))
style_box(ax)
ftext(465, 581, 'True positive rate', rotation=90)
ftext(588, 686, 'False positive rate')

# panel letters
for letter, x, y in [('A', 9, 10), ('B', 337, 10), ('C', 338, 118), ('D', 8, 252), ('E', 338, 253),
                     ('F', 339, 353), ('G', 8, 485), ('H', 240, 478), ('I', 467, 487)]:
    ftext(x, y, letter, fontsize=12)

fig.savefig('out.png', dpi=100)
